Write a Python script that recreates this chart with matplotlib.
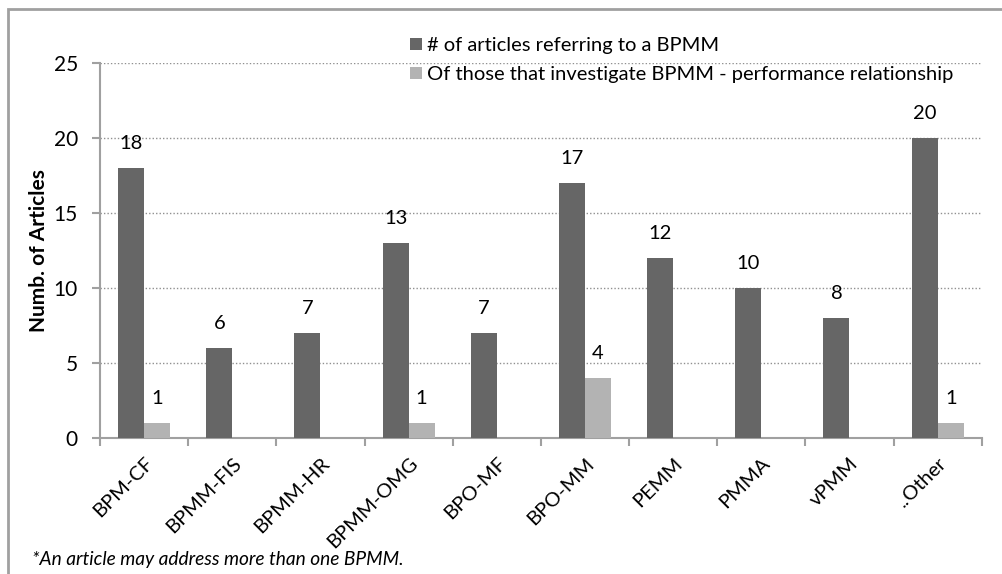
import numpy as np
import matplotlib.pyplot as plt
from matplotlib.patches import Rectangle

# categories and counts
models = ['BPM-CF', 'BPMM-FIS', 'BPMM-HR', 'BPMM-OMG', 'BPO-MF',
          'BPO-MM', 'PEMM', 'PMMA', 'vPMM', '..Other']
referring = [18, 6, 7, 13, 7, 17, 12, 10, 8, 20]
performance = [1, 0, 0, 1, 0, 4, 0, 0, 0, 1]

plt.rcParams['font.family'] = ['Lato', 'DejaVu Sans']
fs = 14.5

fig = plt.figure(figsize=(10.02, 5.74), dpi=100)
ax = fig.add_axes([0.0998, 0.237, 0.880, 0.653])

# gray frame around the whole chart (only top/left visible)
fig.patches.append(Rectangle((8 / 1002, -0.1), 1.2, 1 - 9 / 574 + 0.1,
                             transform=fig.transFigure, fill=False,
                             edgecolor='#a0a0a0', linewidth=2))

x = np.arange(len(models))
w = 0.295
b1 = ax.bar(x - w / 2, referring, w, color='#666666', zorder=3,
            label='# of articles referring to a BPMM')
b2 = ax.bar(x + w / 2, performance, w, color='#b3b3b3', zorder=3,
            label='Of those that investigate BPMM - performance relationship')

# value labels (skip zeros, as in the original)
for xi, v in zip(x, referring):
    ax.text(xi - w / 2, v + 1.05, str(v), ha='center', va='bottom', fontsize=fs)
for xi, v in zip(x, performance):
    if v > 0:
        ax.text(xi + w / 2, v + 1.05, str(v), ha='center', va='bottom', fontsize=fs)

ax.set_xlim(-0.5, len(models) - 0.5)
ax.set_ylim(0, 25)
ax.set_yticks([0, 5, 10, 15, 20, 25])
ax.yaxis.grid(True, linestyle=(0, (1, 1.5)), color='#909090', linewidth=1, zorder=0)

# ticks at category boundaries, labels centred under bars
ax.set_xticks(np.arange(len(models) + 1) - 0.5)
ax.set_xticklabels([])
ax.set_xticks(x, minor=True)
ax.set_xticklabels(models, minor=True, rotation=45, ha='right',
                   rotation_mode='anchor', fontsize=fs)
ax.tick_params(axis='x', which='minor', length=0, pad=12)
ax.tick_params(axis='x', which='major', length=6, color='#a0a0a0', width=1.5)
ax.tick_params(axis='y', length=6, color='#a0a0a0', width=1.5, labelsize=15, pad=10)

for s in ['top', 'right']:
    ax.spines[s].set_visible(False)
for s in ['left', 'bottom']:
    ax.spines[s].set_color('#a0a0a0')
    ax.spines[s].set_linewidth(1.5)

ax.set_ylabel('Numb. of Articles', fontsize=15, fontweight='bold', labelpad=3)

fig.legend(handles=[b1, b2], loc='upper left', bbox_to_anchor=(400 / 1002, 1 - 27 / 574),
           frameon=False, fontsize=fs, borderpad=0, handlelength=0.6,
           handleheight=0.6, handletextpad=0.25, labelspacing=0.6)

fig.text(32 / 1002, 1 - 559 / 574, '*An article may address more than one BPMM.',
         fontsize=13.8, style='italic', va='center')

fig.savefig('out.png', dpi=100)
